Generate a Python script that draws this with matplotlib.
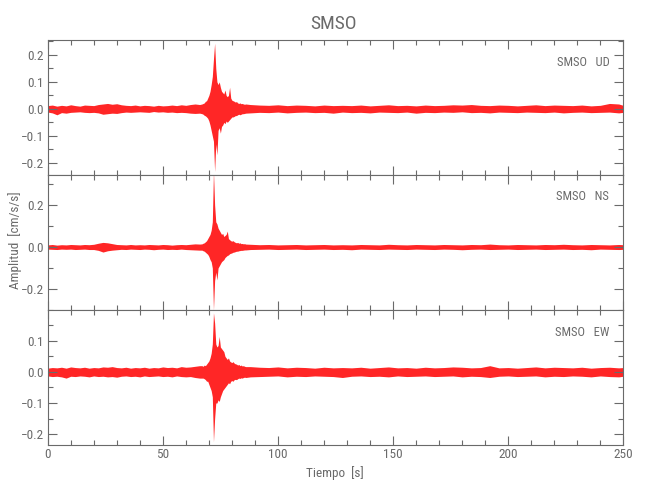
import numpy as np
import matplotlib
matplotlib.use("Agg")
import matplotlib.pyplot as plt
from matplotlib.ticker import MultipleLocator

plt.rcParams['font.family'] = ['Roboto Condensed', 'DejaVu Sans Condensed',
                               'Liberation Sans Narrow', 'DejaVu Sans']

# sample times (s): before the event, around the event, after it
t_pre = np.arange(0, 67, 2)
t_burst = np.arange(67, 86.5, 0.5)
t_post = np.append(np.arange(88, 249, 4), 250)
t = np.concatenate([t_pre, t_burst, t_post])

# envelope of each trace (cm/s/s)
ud_hi = [0.012, 0.014, 0.010, 0.013, 0.011, 0.015, 0.012, 0.010, 0.014, 0.013,
         0.012, 0.016, 0.018, 0.020, 0.017, 0.019, 0.015, 0.013, 0.012, 0.014,
         0.011, 0.013, 0.012, 0.010, 0.013, 0.011, 0.012, 0.014, 0.012, 0.015,
         0.013, 0.016, 0.018, 0.016,
         0.018, 0.020, 0.022, 0.028, 0.030, 0.040, 0.050, 0.065, 0.090, 0.120,
         0.185, 0.243, 0.150, 0.100, 0.090, 0.100, 0.080, 0.065, 0.060, 0.055,
         0.070, 0.050, 0.045, 0.050, 0.080, 0.040, 0.032, 0.030, 0.028, 0.025,
         0.027, 0.022, 0.020, 0.022, 0.019, 0.020, 0.018, 0.017, 0.018,
         0.016, 0.014, 0.013, 0.015, 0.012, 0.014, 0.013, 0.011, 0.014, 0.012,
         0.013, 0.012, 0.014, 0.011, 0.013, 0.015, 0.012, 0.013, 0.011, 0.014,
         0.012, 0.013, 0.015, 0.014, 0.016, 0.013, 0.012, 0.014, 0.013, 0.011,
         0.013, 0.015, 0.012, 0.014, 0.013, 0.012, 0.014, 0.011, 0.013, 0.020,
         0.018, 0.013]
ud_lo = [-0.012, -0.015, -0.022, -0.014, -0.016, -0.013, -0.012, -0.011, -0.013, -0.014,
         -0.013, -0.015, -0.020, -0.018, -0.016, -0.017, -0.014, -0.012, -0.013, -0.012,
         -0.011, -0.012, -0.013, -0.010, -0.012, -0.011, -0.013, -0.012, -0.014, -0.013,
         -0.014, -0.016, -0.017, -0.016,
         -0.018, -0.020, -0.024, -0.026, -0.030, -0.035, -0.045, -0.060, -0.080, -0.100,
         -0.120, -0.232, -0.130, -0.170, -0.080, -0.070, -0.090, -0.065, -0.060, -0.050,
         -0.055, -0.045, -0.050, -0.045, -0.040, -0.035, -0.030, -0.030, -0.028, -0.025,
         -0.025, -0.022, -0.020, -0.022, -0.020, -0.018, -0.018, -0.017, -0.016,
         -0.015, -0.013, -0.014, -0.012, -0.015, -0.013, -0.012, -0.014, -0.013, -0.016,
         -0.012, -0.014, -0.013, -0.015, -0.012, -0.013, -0.014, -0.012, -0.016, -0.013,
         -0.014, -0.012, -0.013, -0.011, -0.014, -0.013, -0.015, -0.012, -0.013, -0.014,
         -0.012, -0.013, -0.014, -0.012, -0.015, -0.013, -0.012, -0.014, -0.013, -0.012,
         -0.015, -0.013]

ns_hi = [0.010, 0.012, 0.009, 0.011, 0.010, 0.012, 0.011, 0.010, 0.012, 0.011,
         0.013, 0.018, 0.022, 0.020, 0.016, 0.012, 0.011, 0.010, 0.012, 0.010,
         0.011, 0.010, 0.012, 0.011, 0.010, 0.012, 0.011, 0.009, 0.011, 0.012,
         0.011, 0.013, 0.015, 0.014,
         0.015, 0.018, 0.020, 0.025, 0.030, 0.040, 0.050, 0.060, 0.080, 0.120,
         0.360, 0.200, 0.120, 0.110, 0.090, 0.080, 0.070, 0.060, 0.065, 0.050,
         0.055, 0.060, 0.076, 0.040, 0.035, 0.030, 0.028, 0.030, 0.025, 0.022,
         0.020, 0.022, 0.018, 0.020, 0.016, 0.017, 0.015, 0.016, 0.014,
         0.013, 0.011, 0.012, 0.010, 0.011, 0.012, 0.010, 0.011, 0.012, 0.010,
         0.011, 0.010, 0.012, 0.011, 0.010, 0.013, 0.011, 0.010, 0.012, 0.011,
         0.010, 0.012, 0.011, 0.010, 0.012, 0.011, 0.014, 0.011, 0.010, 0.012,
         0.011, 0.010, 0.012, 0.011, 0.013, 0.011, 0.010, 0.012, 0.011, 0.010,
         0.012, 0.011]
ns_lo = [-0.010, -0.011, -0.012, -0.010, -0.011, -0.010, -0.012, -0.011, -0.010, -0.012,
         -0.012, -0.016, -0.024, -0.018, -0.015, -0.013, -0.011, -0.012, -0.010, -0.011,
         -0.012, -0.010, -0.011, -0.013, -0.011, -0.010, -0.012, -0.011, -0.012, -0.010,
         -0.012, -0.013, -0.014, -0.015,
         -0.015, -0.018, -0.020, -0.025, -0.030, -0.035, -0.045, -0.060, -0.070, -0.100,
         -0.300, -0.160, -0.120, -0.157, -0.100, -0.090, -0.080, -0.070, -0.065, -0.060,
         -0.050, -0.045, -0.040, -0.038, -0.032, -0.030, -0.028, -0.025, -0.024, -0.022,
         -0.020, -0.020, -0.018, -0.017, -0.016, -0.016, -0.015, -0.014, -0.014,
         -0.012, -0.011, -0.010, -0.012, -0.011, -0.010, -0.012, -0.011, -0.010, -0.012,
         -0.011, -0.013, -0.010, -0.011, -0.012, -0.010, -0.011, -0.012, -0.010, -0.011,
         -0.012, -0.010, -0.011, -0.013, -0.011, -0.010, -0.012, -0.011, -0.010, -0.012,
         -0.011, -0.010, -0.012, -0.011, -0.010, -0.012, -0.011, -0.013, -0.010, -0.011,
         -0.012, -0.011]

ew_hi = [0.012, 0.014, 0.013, 0.015, 0.012, 0.016, 0.014, 0.013, 0.015, 0.012,
         0.014, 0.013, 0.016, 0.015, 0.017, 0.014, 0.013, 0.015, 0.012, 0.014,
         0.013, 0.015, 0.012, 0.014, 0.013, 0.016, 0.014, 0.015, 0.013, 0.017,
         0.015, 0.016, 0.018, 0.020,
         0.020, 0.018, 0.022, 0.020, 0.025, 0.030, 0.035, 0.045, 0.060, 0.090,
         0.190, 0.157, 0.090, 0.080, 0.085, 0.114, 0.080, 0.075, 0.070, 0.065,
         0.050, 0.045, 0.040, 0.045, 0.035, 0.032, 0.030, 0.033, 0.028, 0.026,
         0.025, 0.022, 0.024, 0.020, 0.022, 0.019, 0.020, 0.018, 0.017,
         0.017, 0.015, 0.014, 0.016, 0.013, 0.015, 0.014, 0.012, 0.015, 0.013,
         0.014, 0.013, 0.015, 0.012, 0.014, 0.016, 0.013, 0.014, 0.012, 0.015,
         0.013, 0.014, 0.016, 0.015, 0.013, 0.014, 0.020, 0.013, 0.014, 0.012,
         0.014, 0.016, 0.013, 0.015, 0.014, 0.013, 0.015, 0.012, 0.014, 0.015,
         0.013, 0.014]
ew_lo = [-0.013, -0.015, -0.014, -0.016, -0.020, -0.014, -0.015, -0.013, -0.014, -0.016,
         -0.013, -0.015, -0.014, -0.016, -0.015, -0.017, -0.014, -0.013, -0.015, -0.014,
         -0.016, -0.013, -0.015, -0.014, -0.013, -0.015, -0.014, -0.016, -0.013, -0.015,
         -0.016, -0.015, -0.018, -0.020,
         -0.020, -0.020, -0.022, -0.025, -0.030, -0.030, -0.040, -0.050, -0.060, -0.080,
         -0.225, -0.150, -0.100, -0.100, -0.090, -0.095, -0.080, -0.070, -0.060, -0.055,
         -0.050, -0.045, -0.040, -0.035, -0.038, -0.030, -0.028, -0.030, -0.025, -0.024,
         -0.025, -0.022, -0.020, -0.021, -0.019, -0.020, -0.018, -0.017, -0.018,
         -0.016, -0.015, -0.014, -0.013, -0.016, -0.014, -0.015, -0.013, -0.014, -0.015,
         -0.018, -0.014, -0.013, -0.015, -0.014, -0.016, -0.013, -0.015, -0.014, -0.013,
         -0.015, -0.014, -0.013, -0.016, -0.014, -0.015, -0.018, -0.014, -0.013, -0.015,
         -0.014, -0.013, -0.016, -0.014, -0.015, -0.013, -0.014, -0.016, -0.013, -0.015,
         -0.016, -0.014]

station = "SMSO"
components = ["UD", "NS", "EW"]
traces = [(ud_hi, ud_lo), (ns_hi, ns_lo), (ew_hi, ew_lo)]
ylims = [(-0.245, 0.255), (-0.30, 0.343), (-0.235, 0.199)]
yticks = [(0.1, 0.05), (0.2, 0.1), (0.1, 0.05)]

grey = "#6a6a6a"
fig = plt.figure(figsize=(6.5, 5), dpi=100)
left, right = 47.7 / 650, 623.3 / 650
tops = [40, 175, 310]
h = 135

for i, comp in enumerate(components):
    ax = fig.add_axes([left, 1 - (tops[i] + h) / 500, right - left, h / 500])
    hi, lo = traces[i]
    ax.fill_between(t, lo, hi, color="red", alpha=0.85, lw=0)
    ax.set_xlim(0, 250)
    ax.set_ylim(*ylims[i])
    ax.xaxis.set_major_locator(MultipleLocator(50))
    ax.xaxis.set_minor_locator(MultipleLocator(10))
    ax.yaxis.set_major_locator(MultipleLocator(yticks[i][0]))
    ax.yaxis.set_minor_locator(MultipleLocator(yticks[i][1]))
    ax.tick_params(which="both", direction="in", top=True, right=True,
                   color=grey, labelcolor=grey, labelsize=9.5, pad=2.5)
    ax.tick_params(which="major", length=6.5, width=0.8)
    ax.tick_params(which="minor", length=3.5, width=0.8)
    for s in ax.spines.values():
        s.set_color(grey)
        s.set_linewidth(0.8)
    if i < 2:
        ax.tick_params(labelbottom=False)
    ax.annotate(f"{station}   {comp}", xy=(1, 1), xycoords="axes fraction",
                xytext=(-14, -22), textcoords="offset pixels",
                ha="right", va="center", color=grey, fontsize=9)

fig.text(333 / 650, 1 - 24 / 500, station, ha="center", va="center",
         color=grey, fontsize=14)
fig.text(15 / 650, 1 - 240 / 500, "Amplitud  [cm/s/s]", rotation=90,
         ha="center", va="center", color=grey, fontsize=9.5)
fig.text(335 / 650, 1 - 473 / 500, "Tiempo  [s]", ha="center", va="center",
         color=grey, fontsize=9.5)

fig.savefig("out.png", dpi=100)
